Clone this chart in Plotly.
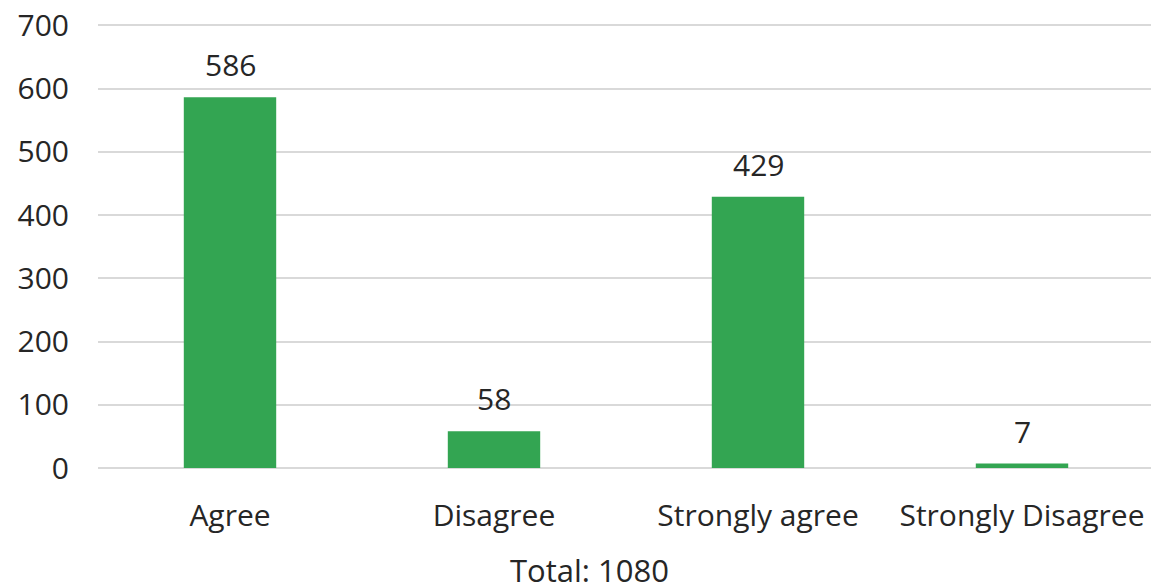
import plotly.graph_objects as go

categories = ["Agree", "Disagree", "Strongly agree", "Strongly Disagree"]
counts = [586, 58, 429, 7]
total_label = "Total: 1080"
y_ticks = [0, 100, 200, 300, 400, 500, 600, 700]

FONT = "Open Sans"
TXT = "#262626"
BAR = "#33a552"
GRID = "#d9d9d9"
FS = 30

fig = go.Figure()
fig.add_trace(go.Bar(x=categories, y=counts, marker=dict(color=BAR, line=dict(width=0)),
                     width=0.35, hoverinfo="skip"))

for c, v in zip(categories, counts):
    fig.add_annotation(x=c, y=v, text=str(v), showarrow=False, yanchor="bottom",
                       yshift=10, font=dict(family=FONT, size=FS, color=TXT))

fig.add_annotation(x=0.465, y=-0.23, xref="paper", yref="paper", text=total_label,
                   showarrow=False, yanchor="middle", xanchor="center",
                   font=dict(family=FONT, size=31, color=TXT))

fig.update_layout(
    width=1151, height=579,
    margin=dict(l=90, r=5, t=16, b=119, autoexpand=False),
    paper_bgcolor="white", plot_bgcolor="white",
    showlegend=False,
    font=dict(family=FONT, color=TXT, size=FS),
    xaxis=dict(showgrid=False, showline=False, ticks="", ticklabelstandoff=27,
               automargin=False, tickfont=dict(family=FONT, size=FS, color=TXT)),
    yaxis=dict(range=[0, 702], tickvals=y_ticks, showgrid=True, gridcolor=GRID, gridwidth=2,
               zeroline=True, zerolinecolor=GRID, zerolinewidth=2, showline=False, ticks="",
               ticklabelstandoff=28, ticklabeloverflow="allow", automargin=False,
               tickfont=dict(family=FONT, size=FS, color=TXT)),
)

fig.write_html("out.html")
